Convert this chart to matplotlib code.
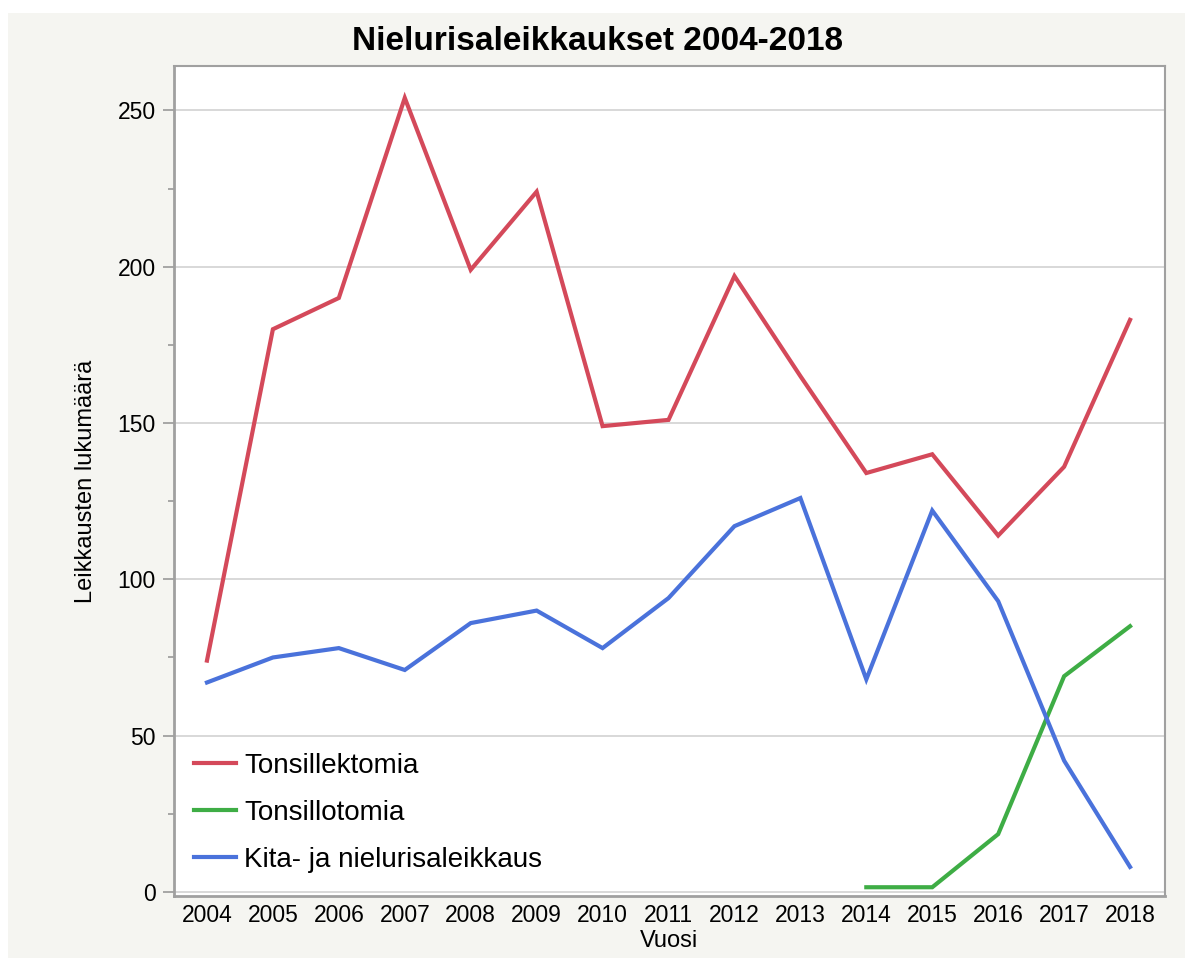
import matplotlib.pyplot as plt
from matplotlib.patches import Rectangle
from matplotlib.ticker import MultipleLocator

plt.rcParams['font.family'] = ['Liberation Sans', 'DejaVu Sans']

years = list(range(2004, 2019))
tonsillektomia = [74, 180, 190, 254, 199, 224, 149, 151, 197, 165, 134, 140, 114, 136, 183]
kita_nielu = [67, 75, 78, 71, 86, 90, 78, 94, 117, 126, 68, 122, 93, 42, 8]
tonsillotomia_years = [2014, 2015, 2016, 2017, 2018]
tonsillotomia = [1.5, 1.5, 18.5, 69, 85]

W, H = 1194, 958
fig = plt.figure(figsize=(W / 100, H / 100), dpi=100, facecolor='white')
# light background panel
fig.patches.append(Rectangle((8 / W, 0), (1185 - 8) / W, (H - 13) / H,
                             transform=fig.transFigure, facecolor='#f5f5f1',
                             edgecolor='none', zorder=-10))

ax = fig.add_axes([174 / W, 1 - 896 / H, (1165 - 174) / W, (896 - 66) / H])
ax.set_zorder(5)
ax.set_facecolor('white')

ax.plot(years, tonsillektomia, color='#d4495a', lw=3, label='Tonsillektomia', solid_joinstyle='miter')
ax.plot(tonsillotomia_years, tonsillotomia, color='#3ead45', lw=3, label='Tonsillotomia', solid_joinstyle='miter')
ax.plot(years, kita_nielu, color='#4a72db', lw=3, label='Kita- ja nielurisaleikkaus', solid_joinstyle='miter')

ax.set_xlim(2003.5, 2018.53)
ax.set_ylim(-1.3, 264.2)
ax.set_xticks(years)
ax.set_xticklabels([str(y) for y in years])
ax.yaxis.set_major_locator(MultipleLocator(50))
ax.yaxis.set_minor_locator(MultipleLocator(25))
ax.grid(axis='y', which='major', color='#d6d6d6', lw=1.3)
ax.set_axisbelow(True)

for side in ['left', 'right', 'top', 'bottom']:
    ax.spines[side].set_color('#a0a0a0')
ax.spines['left'].set_linewidth(2)
ax.spines['bottom'].set_linewidth(2)
ax.spines['top'].set_linewidth(1.5)
ax.spines['right'].set_linewidth(1.5)

ax.tick_params(axis='y', which='major', length=8, width=1.3, color='#a0a0a0', labelsize=16.5, pad=5)
ax.tick_params(axis='y', which='minor', length=4.5, width=1.3, color='#a0a0a0')
ax.tick_params(axis='x', length=0, labelsize=16.5, pad=6)

ax.set_ylabel('Leikkausten lukumäärä', fontsize=17, labelpad=15)
ax.set_xlabel('Vuosi', fontsize=17, labelpad=2)

fig.text(597 / W, 1 - 42 / H, 'Nielurisaleikkaukset 2004-2018', ha='center', va='center',
         fontsize=24, fontweight='bold')

ax.legend(loc='center left', frameon=False, fontsize=20, handlelength=1.5,
          handletextpad=0.3, labelspacing=0.75, borderpad=0, borderaxespad=0,
          bbox_to_anchor=(20 / 991, 0.1))

fig.savefig('out.png', dpi=100, facecolor='white')
